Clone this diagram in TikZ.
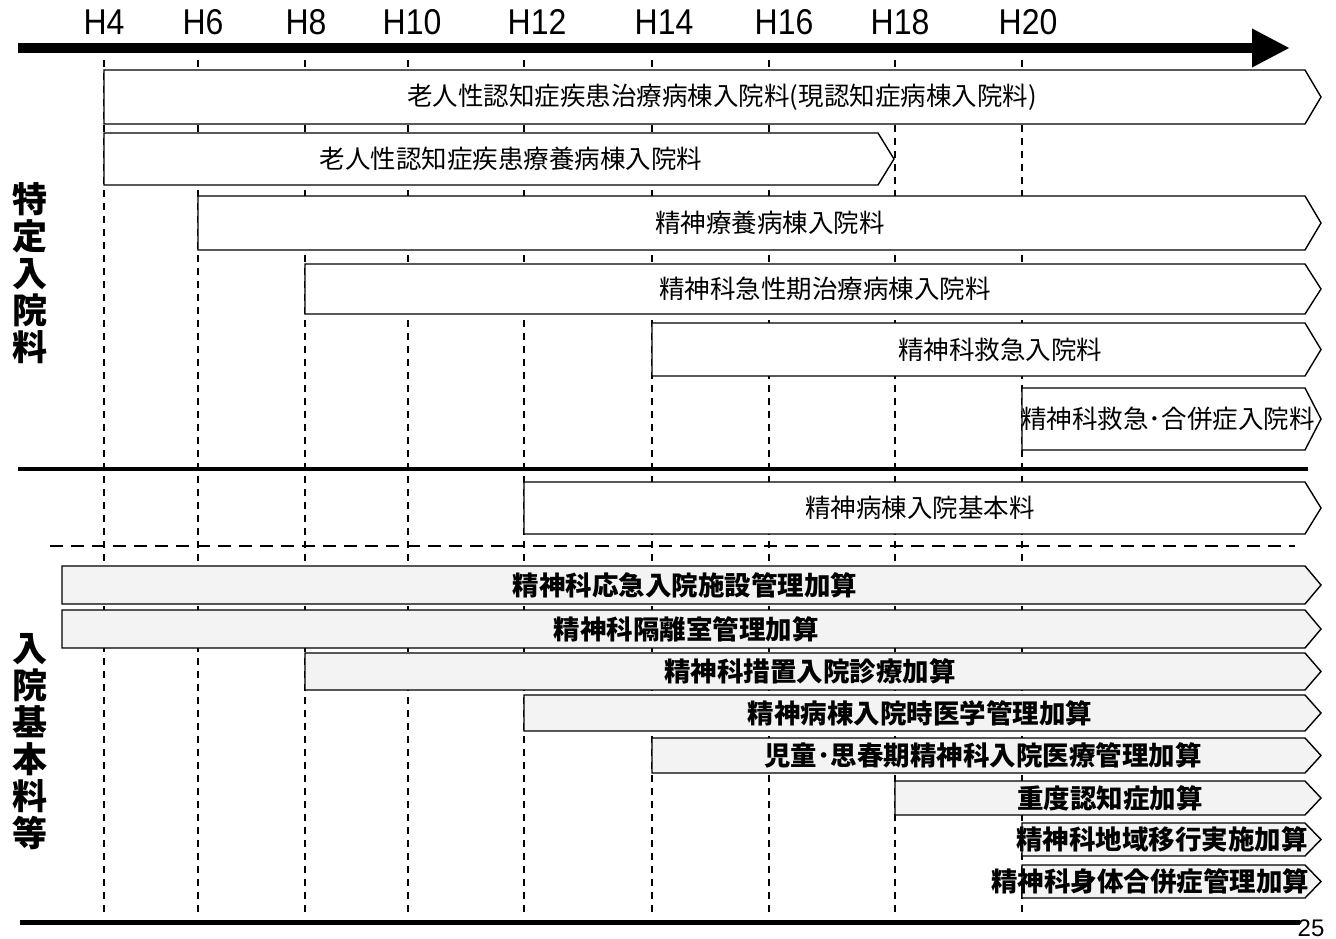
\documentclass[tikz,border=0pt]{standalone}
\usepackage{fontspec}
\setmainfont{Liberation Sans}
\newfontfamily\jpfont{Noto Sans CJK JP}
\usetikzlibrary{arrows.meta}
\definecolor{speckle}{HTML}{F3F3F3}

\tikzset{
  yearline/.style={line width=1.3pt,dash pattern=on 7pt off 6pt},
  yearlabel/.style={font=\fontsize{32}{32}\selectfont,inner sep=0pt,yscale=1.12},
  plainbar/.style={draw=black,line width=1.4pt,fill=white},
  plainbar text/.style={font=\fontsize{25.5}{25.5}\selectfont\jpfont,inner sep=0pt},
  addbar/.style={draw=black,line width=1.4pt,fill=speckle},
  addbar text/.style={font=\fontsize{26.5}{26.5}\selectfont\jpfont\bfseries,inner sep=0pt},
  sidelabel/.style={font=\fontsize{35}{37}\selectfont\jpfont\bfseries,align=center,inner sep=0pt},
}

% one period bar: style, name, left x, right x, top y, bottom y, text x, text
\newcommand{\phase}[8]{%
  \pgfmathsetmacro{\ymid}{(#5+#6)/2}%
  \pgfmathsetmacro{\xtip}{#4+16}%
  \draw[#1] (#3,#5) -- (#4,#5) -- (\xtip,\ymid) -- (#4,#6) -- (#3,#6) -- cycle;
  \node[#1 text] (#2) at (#7,\ymid) {#8};
}

\begin{document}
\begin{tikzpicture}[x=1pt,y=-1pt]
  \useasboundingbox (0,0) rectangle (1336,939);

  % time axis
  \draw[line width=10pt,-{Triangle[length=38pt,width=36pt]}] (18,48) -- (1290,48);
  \foreach \x/\lx/\yr in {104/104/4,198/203/6,305/306/8,408/412/10,524/537/12,652/664/14,769/784/16,895/900/18,1022/1028/20}{
    \draw[yearline] (\x,60) -- (\x,916);
    \node[yearlabel] (yr\yr) at (\lx,22) {H\yr};
  }

  % specific admission fees
  \phase{plainbar}{ninchi}{104}{1305}{70}{124}{722}{老人性認知症疾患治療病棟入院料(現認知症病棟入院料)}
  \phase{plainbar}{ryoyo}{104}{878}{133}{185}{511}{老人性認知症疾患療養病棟入院料}
  \phase{plainbar}{seishinryoyo}{198}{1305}{196}{250}{770}{精神療養病棟入院料}
  \phase{plainbar}{kyusei}{305}{1305}{264}{314}{825}{精神科急性期治療病棟入院料}
  \phase{plainbar}{kyukyu}{652}{1305}{323}{376}{1000}{精神科救急入院料}
  \phase{plainbar}{gappei}{1022}{1305}{388}{450}{1168}{精神科救急･合併症入院料}

  \draw[line width=4pt] (18,469) -- (1308,469);

  % basic admission fees and additions
  \phase{plainbar}{kihon}{524}{1305}{482}{534}{920}{精神病棟入院基本料}
  \draw[line width=2.5pt,dash pattern=on 13pt off 8pt] (50,546) -- (1295,546);

  \phase{addbar}{ookyu}{62}{1305}{566}{604}{685}{精神科応急入院施設管理加算}
  \phase{addbar}{kakuri}{62}{1305}{610}{648}{686}{精神科隔離室管理加算}
  \phase{addbar}{sochi}{305}{1305}{653}{690}{810}{精神科措置入院診療加算}
  \phase{addbar}{igaku}{524}{1305}{695}{731}{920}{精神病棟入院時医学管理加算}
  \phase{addbar}{jido}{652}{1305}{738}{773}{983}{児童･思春期精神科入院医療管理加算}
  \phase{addbar}{judo}{895}{1305}{781}{815}{1110}{重度認知症加算}
  \phase{addbar}{chiiki}{1022}{1305}{823}{856}{1162}{精神科地域移行実施加算}
  \phase{addbar}{shintai}{1022}{1305}{865}{898}{1150}{精神科身体合併症管理加算}

  \draw[line width=5pt] (20,922) -- (1300,922);
  \node[font=\fontsize{24}{24}\selectfont,inner sep=0pt] (page) at (1311,928) {25};

  % side labels
  \node[sidelabel] (tokutei) at (30,273) {特\\定\\入\\院\\料};
  \node[sidelabel] (kihonlabel) at (30,742) {入\\院\\基\\本\\料\\等};
\end{tikzpicture}
\end{document}
